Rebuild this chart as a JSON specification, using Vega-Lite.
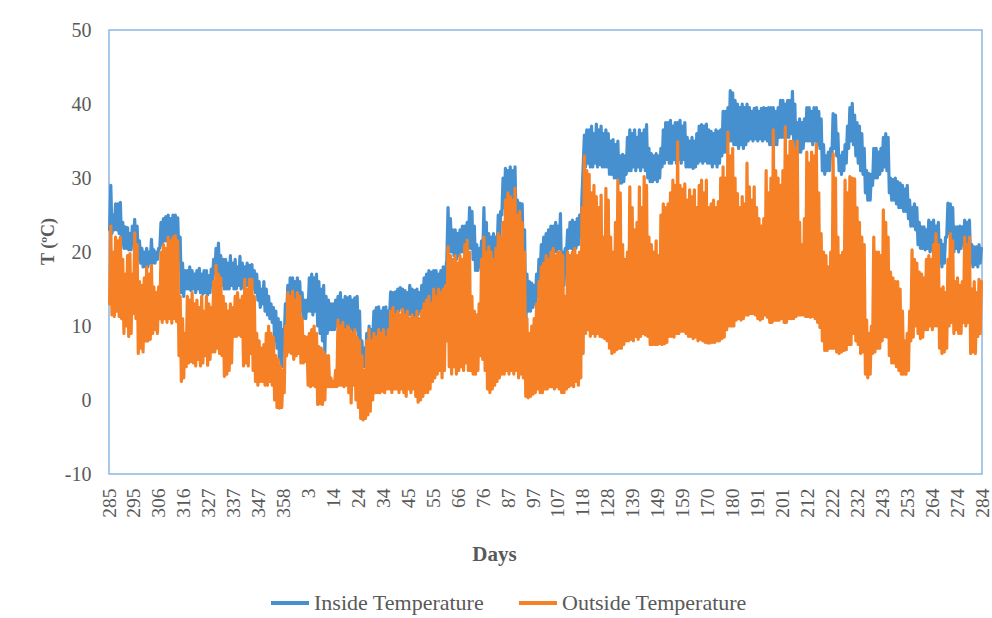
{
"$schema":"https://vega.github.io/schema/vega-lite/v6.json",
"width":873,"height":444,
"autosize":{"type":"none"},
"padding":{"left":109,"top":30,"right":10,"bottom":144},
"background":"white",
"config":{"font":"Liberation Serif","view":{"stroke":"#8DB6E2","strokeWidth":1.5}},
"data":{"values":[
{"t":0.25,"i":23,"o":13},{"t":0.75,"i":29,"o":23.5},
{"t":1.25,"i":22.5,"o":11.5},{"t":1.75,"i":25,"o":20},
{"t":2.25,"i":23,"o":11.3},{"t":2.75,"i":26.5,"o":22},
{"t":3.25,"i":23,"o":12},{"t":3.75,"i":26.5,"o":21.5},
{"t":4.25,"i":22.5,"o":11.3},{"t":4.75,"i":26.7,"o":22},
{"t":5.25,"i":21,"o":11},{"t":5.75,"i":24,"o":19},
{"t":6.25,"i":20.5,"o":9},{"t":6.75,"i":23.4,"o":17},
{"t":7.25,"i":20.5,"o":10},{"t":7.75,"i":23.3,"o":19.5},
{"t":8.25,"i":20.3,"o":8.6},{"t":8.75,"i":22.5,"o":19.8},
{"t":9.25,"i":20.3,"o":9},{"t":9.75,"i":23.5,"o":17},
{"t":10.25,"i":21,"o":11.7},{"t":10.75,"i":24.4,"o":22.6},
{"t":11.25,"i":20,"o":11},{"t":11.75,"i":23.5,"o":21},
{"t":12.25,"i":19,"o":6.3},{"t":12.75,"i":21.5,"o":16},
{"t":13.25,"i":18.5,"o":7},{"t":13.75,"i":20.5,"o":15.5},
{"t":14.25,"i":18,"o":6.5},{"t":14.75,"i":20,"o":16.5},
{"t":15.25,"i":18,"o":8},{"t":15.75,"i":20.5,"o":18},
{"t":16.25,"i":18,"o":8},{"t":16.75,"i":20,"o":17},
{"t":17.25,"i":18.5,"o":8.2},{"t":17.75,"i":21.7,"o":18.2},
{"t":18.25,"i":18.5,"o":9},{"t":18.75,"i":20.3,"o":15.3},
{"t":19.25,"i":18.5,"o":9.5},{"t":19.75,"i":20,"o":14.5},
{"t":20.25,"i":19,"o":9},{"t":20.75,"i":20.5,"o":15.3},
{"t":21.25,"i":20.5,"o":11},{"t":21.75,"i":24,"o":20},
{"t":22.25,"i":21,"o":10.5},{"t":22.75,"i":24.5,"o":21},
{"t":23.25,"i":21.5,"o":11},{"t":23.75,"i":24.8,"o":20.5},
{"t":24.25,"i":21.5,"o":10.5},{"t":24.75,"i":25,"o":22},
{"t":25.25,"i":21,"o":11},{"t":25.75,"i":24.5,"o":21.5},
{"t":26.25,"i":21.5,"o":10.4},{"t":26.75,"i":25,"o":22},
{"t":27.25,"i":22,"o":11},{"t":27.75,"i":25,"o":22.2},
{"t":28.25,"i":21.5,"o":10.6},{"t":28.75,"i":24.6,"o":21.5},
{"t":29.25,"i":19,"o":6},{"t":29.75,"i":22,"o":14},
{"t":30.25,"i":14.5,"o":2.5},{"t":30.75,"i":18.5,"o":11},
{"t":31.25,"i":14,"o":3},{"t":31.75,"i":17.5,"o":9},
{"t":32.25,"i":15,"o":4.5},{"t":32.75,"i":17.5,"o":14},
{"t":33.25,"i":15,"o":5},{"t":33.75,"i":18,"o":13.5},
{"t":34.25,"i":14.8,"o":5.2},{"t":34.75,"i":17.5,"o":14.5},
{"t":35.25,"i":15,"o":5},{"t":35.75,"i":17,"o":13},
{"t":36.25,"i":14.5,"o":4.6},{"t":36.75,"i":17.5,"o":13.5},
{"t":37.25,"i":15,"o":5.5},{"t":37.75,"i":17.8,"o":12.5},
{"t":38.25,"i":14.5,"o":4.6},{"t":38.75,"i":17,"o":14},
{"t":39.25,"i":14.3,"o":5},{"t":39.75,"i":17.5,"o":12},
{"t":40.25,"i":14.5,"o":6},{"t":40.75,"i":17.5,"o":14},
{"t":41.25,"i":14.2,"o":4.7},{"t":41.75,"i":16.8,"o":13},
{"t":42.25,"i":14.5,"o":5.5},{"t":42.75,"i":17.7,"o":12.5},
{"t":43.25,"i":16,"o":6.5},{"t":43.75,"i":19,"o":16},
{"t":44.25,"i":17,"o":6.5},{"t":44.75,"i":20.5,"o":18.2},
{"t":45.25,"i":17,"o":7},{"t":45.75,"i":21.2,"o":17},
{"t":46.25,"i":16.5,"o":6.3},{"t":46.75,"i":19.5,"o":16.5},
{"t":47.25,"i":15.5,"o":6},{"t":47.75,"i":19,"o":14},
{"t":48.25,"i":15,"o":3.2},{"t":48.75,"i":19,"o":13},
{"t":49.25,"i":15,"o":3.5},{"t":49.75,"i":18.5,"o":12},
{"t":50.25,"i":15,"o":4},{"t":50.75,"i":19.5,"o":13},
{"t":51.25,"i":15.5,"o":5},{"t":51.75,"i":18.5,"o":12.5},
{"t":52.25,"i":15,"o":8.6},{"t":52.75,"i":19,"o":14},
{"t":53.25,"i":15,"o":8.6},{"t":53.75,"i":18,"o":14.5},
{"t":54.25,"i":15.5,"o":8.8},{"t":54.75,"i":19.4,"o":13.5},
{"t":55.25,"i":15,"o":8.6},{"t":55.75,"i":18.5,"o":14},
{"t":56.25,"i":15.3,"o":4.6},{"t":56.75,"i":18,"o":16.3},
{"t":57.25,"i":15.5,"o":5},{"t":57.75,"i":18.5,"o":15},
{"t":58.25,"i":15.5,"o":4.6},{"t":58.75,"i":18.2,"o":16.3},
{"t":59.25,"i":16,"o":6.3},{"t":59.75,"i":18.3,"o":16.3},
{"t":60.25,"i":15,"o":4},{"t":60.75,"i":17.5,"o":14},
{"t":61.25,"i":14.5,"o":2.5},{"t":61.75,"i":17,"o":9},
{"t":62.25,"i":13.5,"o":2},{"t":62.75,"i":16,"o":8},
{"t":63.25,"i":12.5,"o":2.5},{"t":63.75,"i":15,"o":7},
{"t":64.25,"i":13,"o":2.5},{"t":64.75,"i":16,"o":7.5},
{"t":65.25,"i":12,"o":2},{"t":65.75,"i":15,"o":9},
{"t":66.25,"i":11.5,"o":2},{"t":66.75,"i":14,"o":10},
{"t":67.25,"i":11,"o":2.5},{"t":67.75,"i":13,"o":9},
{"t":68.25,"i":10.5,"o":2},{"t":68.75,"i":12.5,"o":8.5},
{"t":69.25,"i":8,"o":0},{"t":69.75,"i":12,"o":6},
{"t":70.25,"i":7,"o":-1},{"t":70.75,"i":11,"o":5.5},
{"t":71.25,"i":5.5,"o":-1.1},{"t":71.75,"i":10.5,"o":4.5},
{"t":72.25,"i":4.5,"o":-1},{"t":72.75,"i":9.5,"o":4},
{"t":73.25,"i":8,"o":1},{"t":73.75,"i":13,"o":10},
{"t":74.25,"i":11,"o":6},{"t":74.75,"i":15.5,"o":14.5},
{"t":75.25,"i":12,"o":6.5},{"t":75.75,"i":16.5,"o":14},
{"t":76.25,"i":12.5,"o":6.3},{"t":76.75,"i":16.5,"o":14.7},
{"t":77.25,"i":12,"o":5.5},{"t":77.75,"i":16,"o":13.5},
{"t":78.25,"i":12.5,"o":6},{"t":78.75,"i":16.5,"o":14.5},
{"t":79.25,"i":12,"o":6.3},{"t":79.75,"i":16,"o":14},
{"t":80.25,"i":12,"o":5},{"t":80.75,"i":14.5,"o":11},
{"t":81.25,"i":11,"o":5},{"t":81.75,"i":13.5,"o":8.6},
{"t":82.25,"i":11,"o":5.2},{"t":82.75,"i":13.5,"o":8.5},
{"t":83.25,"i":12,"o":2},{"t":83.75,"i":16.5,"o":9},
{"t":84.25,"i":12,"o":1.8},{"t":84.75,"i":17,"o":9.5},
{"t":85.25,"i":11.5,"o":2},{"t":85.75,"i":16.5,"o":10},
{"t":86.25,"i":12,"o":1.8},{"t":86.75,"i":17,"o":9},
{"t":87.25,"i":10,"o":-0.6},{"t":87.75,"i":16,"o":7.2},
{"t":88.25,"i":9,"o":-0.5},{"t":88.75,"i":15,"o":7},
{"t":89.25,"i":8,"o":-0.6},{"t":89.75,"i":15.5,"o":6.5},
{"t":90.25,"i":6.3,"o":0},{"t":90.75,"i":14,"o":6},
{"t":91.25,"i":9,"o":1.8},{"t":91.75,"i":13.5,"o":6},
{"t":92.25,"i":9.5,"o":1.8},{"t":92.75,"i":13,"o":3},
{"t":93.25,"i":9.5,"o":1.8},{"t":93.75,"i":13,"o":2.5},
{"t":94.25,"i":9.5,"o":1.8},{"t":94.75,"i":13.5,"o":4},
{"t":95.25,"i":10,"o":1.8},{"t":95.75,"i":14,"o":10.8},
{"t":96.25,"i":10,"o":2},{"t":96.75,"i":14.5,"o":10},
{"t":97.25,"i":9.5,"o":2},{"t":97.75,"i":13.5,"o":10.5},
{"t":98.25,"i":9,"o":1.8},{"t":98.75,"i":14,"o":9.5},
{"t":99.25,"i":9.5,"o":2},{"t":99.75,"i":13.8,"o":10},
{"t":100.25,"i":10,"o":1},{"t":100.75,"i":14,"o":9.5},
{"t":101.25,"i":9.5,"o":-0.4},{"t":101.75,"i":13.5,"o":9},
{"t":102.25,"i":9,"o":2},{"t":102.75,"i":13.8,"o":9.5},
{"t":103.25,"i":9.5,"o":0},{"t":103.75,"i":14,"o":8.5},
{"t":104.25,"i":8,"o":-1},{"t":104.75,"i":12,"o":8},
{"t":105.25,"i":5,"o":-2.5},{"t":105.75,"i":8,"o":6},
{"t":106.25,"i":4.5,"o":-2.7},{"t":106.75,"i":7,"o":4},
{"t":107.25,"i":4.5,"o":-2.5},{"t":107.75,"i":9,"o":8},
{"t":108.25,"i":5,"o":-2},{"t":108.75,"i":10,"o":9.5},
{"t":109.25,"i":5.5,"o":-1.5},{"t":109.75,"i":9.5,"o":8},
{"t":110.25,"i":8,"o":0},{"t":110.75,"i":12,"o":9},
{"t":111.25,"i":8.5,"o":1},{"t":111.75,"i":12.5,"o":8.5},
{"t":112.25,"i":8,"o":1},{"t":112.75,"i":12.6,"o":9.5},
{"t":113.25,"i":8,"o":1},{"t":113.75,"i":12,"o":9},
{"t":114.25,"i":8.5,"o":1.2},{"t":114.75,"i":12.5,"o":9.5},
{"t":115.25,"i":8.5,"o":1},{"t":115.75,"i":12.6,"o":8.5},
{"t":116.25,"i":8,"o":1.5},{"t":116.75,"i":12,"o":9.5},
{"t":117.25,"i":11,"o":1.5},{"t":117.75,"i":14.6,"o":12},
{"t":118.25,"i":11,"o":1},{"t":118.75,"i":14.5,"o":12.5},
{"t":119.25,"i":11.5,"o":1.5},{"t":119.75,"i":14.6,"o":11.5},
{"t":120.25,"i":12,"o":1.5},{"t":120.75,"i":15,"o":12},
{"t":121.25,"i":12,"o":1},{"t":121.75,"i":15.2,"o":11.5},
{"t":122.25,"i":12.5,"o":1.5},{"t":122.75,"i":15,"o":12.3},
{"t":123.25,"i":11.5,"o":1},{"t":123.75,"i":14.8,"o":11.5},
{"t":124.25,"i":11.5,"o":0.5},{"t":124.75,"i":14.5,"o":12},
{"t":125.25,"i":11.5,"o":1.5},{"t":125.75,"i":15.5,"o":11},
{"t":126.25,"i":11.5,"o":1},{"t":126.75,"i":15,"o":11.5},
{"t":127.25,"i":11,"o":1.5},{"t":127.75,"i":14.8,"o":11},
{"t":128.25,"i":11.5,"o":0.5},{"t":128.75,"i":15,"o":12},
{"t":129.25,"i":11.5,"o":-0.3},{"t":129.75,"i":14.5,"o":11},
{"t":130.25,"i":12,"o":0},{"t":130.75,"i":15.5,"o":12},
{"t":131.25,"i":12.5,"o":0.5},{"t":131.75,"i":16.5,"o":13},
{"t":132.25,"i":13,"o":1},{"t":132.75,"i":17,"o":13.5},
{"t":133.25,"i":13.5,"o":1},{"t":133.75,"i":17.5,"o":14},
{"t":134.25,"i":13,"o":1.5},{"t":134.75,"i":17.3,"o":13},
{"t":135.25,"i":13.5,"o":2.5},{"t":135.75,"i":17.5,"o":15},
{"t":136.25,"i":14,"o":3},{"t":136.75,"i":17.5,"o":14},
{"t":137.25,"i":13.5,"o":3.5},{"t":137.75,"i":17,"o":15},
{"t":138.25,"i":14,"o":4},{"t":138.75,"i":17.5,"o":14.5},
{"t":139.25,"i":14.5,"o":3},{"t":139.75,"i":18,"o":15},
{"t":140.25,"i":14.5,"o":4},{"t":140.75,"i":17.5,"o":15.5},
{"t":141.25,"i":19,"o":8},{"t":141.75,"i":26,"o":20.7},
{"t":142.25,"i":20,"o":4.5},{"t":142.75,"i":24.5,"o":19.5},
{"t":143.25,"i":20,"o":3.5},{"t":143.75,"i":23,"o":19},
{"t":144.25,"i":19.5,"o":4.5},{"t":144.75,"i":23,"o":19.5},
{"t":145.25,"i":19,"o":3.5},{"t":145.75,"i":22.5,"o":18.5},
{"t":146.25,"i":19.5,"o":4},{"t":146.75,"i":23,"o":19.5},
{"t":147.25,"i":20,"o":4.5},{"t":147.75,"i":23.5,"o":19},
{"t":148.25,"i":20,"o":4},{"t":148.75,"i":23.5,"o":21},
{"t":149.25,"i":20.5,"o":5},{"t":149.75,"i":24,"o":21.6},
{"t":150.25,"i":20.5,"o":4},{"t":150.75,"i":26,"o":20},
{"t":151.25,"i":20.5,"o":4},{"t":151.75,"i":25.5,"o":14},
{"t":152.25,"i":19,"o":3.5},{"t":152.75,"i":23.5,"o":12},
{"t":153.25,"i":17.5,"o":3.5},{"t":153.75,"i":21,"o":11.5},
{"t":154.25,"i":17.5,"o":4},{"t":154.75,"i":20.5,"o":13},
{"t":155.25,"i":18,"o":6},{"t":155.75,"i":21.5,"o":19},
{"t":156.25,"i":19,"o":5.5},{"t":156.75,"i":26,"o":22},
{"t":157.25,"i":18.5,"o":4},{"t":157.75,"i":24,"o":20},
{"t":158.25,"i":18,"o":1.5},{"t":158.75,"i":22.5,"o":20.7},
{"t":159.25,"i":17.5,"o":1},{"t":159.75,"i":22,"o":20},
{"t":160.25,"i":18,"o":1.5},{"t":160.75,"i":22.5,"o":19},
{"t":161.25,"i":18.5,"o":2},{"t":161.75,"i":22,"o":20.5},
{"t":162.25,"i":20,"o":2.5},{"t":162.75,"i":25,"o":22.5},
{"t":163.25,"i":21,"o":3},{"t":163.75,"i":25.5,"o":22},
{"t":164.25,"i":25,"o":3.5},{"t":164.75,"i":30,"o":24},
{"t":165.25,"i":26,"o":3.5},{"t":165.75,"i":31.3,"o":27},
{"t":166.25,"i":26.5,"o":4},{"t":166.75,"i":31,"o":28},
{"t":167.25,"i":26,"o":3.5},{"t":167.75,"i":31.5,"o":27.5},
{"t":168.25,"i":26,"o":4},{"t":168.75,"i":31,"o":27},
{"t":169.25,"i":26,"o":3.5},{"t":169.75,"i":31.5,"o":28.6},
{"t":170.25,"i":23,"o":4},{"t":170.75,"i":27,"o":25},
{"t":171.25,"i":22,"o":3},{"t":171.75,"i":26.6,"o":25.5},
{"t":172.25,"i":22,"o":3.5},{"t":172.75,"i":26.5,"o":24},
{"t":173.25,"i":18,"o":3},{"t":173.75,"i":23,"o":20},
{"t":174.25,"i":9.5,"o":0.5},{"t":174.75,"i":17,"o":11},
{"t":175.25,"i":12,"o":0.3},{"t":175.75,"i":16,"o":9},
{"t":176.25,"i":12,"o":0.5},{"t":176.75,"i":15.8,"o":10},
{"t":177.25,"i":12.5,"o":0.8},{"t":177.75,"i":15.5,"o":11},
{"t":178.25,"i":13,"o":1},{"t":178.75,"i":17,"o":13},
{"t":179.25,"i":14,"o":1.5},{"t":179.75,"i":19,"o":16},
{"t":180.25,"i":17,"o":1},{"t":180.75,"i":21,"o":18},
{"t":181.25,"i":17.5,"o":1},{"t":181.75,"i":22,"o":18.5},
{"t":182.25,"i":18,"o":1.5},{"t":182.75,"i":22.5,"o":19.5},
{"t":183.25,"i":18.5,"o":1.5},{"t":183.75,"i":23,"o":19},
{"t":184.25,"i":18.5,"o":1.8},{"t":184.75,"i":23.5,"o":20},
{"t":185.25,"i":19.5,"o":1.8},{"t":185.75,"i":23.5,"o":20.5},
{"t":186.25,"i":20,"o":1.5},{"t":186.75,"i":24,"o":19.5},
{"t":187.25,"i":20,"o":1.8},{"t":187.75,"i":23.5,"o":20},
{"t":188.25,"i":20.5,"o":1.5},{"t":188.75,"i":25.2,"o":20},
{"t":189.25,"i":15,"o":1},{"t":189.75,"i":20,"o":19.5},
{"t":190.25,"i":15.5,"o":1},{"t":190.75,"i":20.5,"o":14},
{"t":191.25,"i":19.5,"o":1.5},{"t":191.75,"i":23,"o":20},
{"t":192.25,"i":20.5,"o":1.8},{"t":192.75,"i":24,"o":19.5},
{"t":193.25,"i":20.5,"o":2},{"t":193.75,"i":24.3,"o":20},
{"t":194.25,"i":20,"o":1.8},{"t":194.75,"i":24,"o":20.5},
{"t":195.25,"i":20.5,"o":2.5},{"t":195.75,"i":24.5,"o":19.5},
{"t":196.25,"i":21,"o":2},{"t":196.75,"i":25,"o":20},
{"t":197.25,"i":22,"o":3},{"t":197.75,"i":27.5,"o":26},
{"t":198.25,"i":31.5,"o":6.3},{"t":198.75,"i":35.8,"o":33},
{"t":199.25,"i":31.5,"o":9},{"t":199.75,"i":36.5,"o":31},
{"t":200.25,"i":32,"o":9.5},{"t":200.75,"i":36.5,"o":30.5},
{"t":201.25,"i":31.5,"o":8.6},{"t":201.75,"i":37,"o":28},
{"t":202.25,"i":31.5,"o":9},{"t":202.75,"i":36,"o":29},
{"t":203.25,"i":32,"o":8.6},{"t":203.75,"i":37.3,"o":27.5},
{"t":204.25,"i":31.5,"o":9},{"t":204.75,"i":36.5,"o":26},
{"t":205.25,"i":31.8,"o":8.6},{"t":205.75,"i":37,"o":27.7},
{"t":206.25,"i":31.5,"o":8.5},{"t":206.75,"i":36,"o":22},
{"t":207.25,"i":31.5,"o":8.3},{"t":207.75,"i":36.5,"o":28.6},
{"t":208.25,"i":31.5,"o":8},{"t":208.75,"i":36,"o":27},
{"t":209.25,"i":30.5,"o":7},{"t":209.75,"i":35,"o":22},
{"t":210.25,"i":30.5,"o":6.3},{"t":210.75,"i":35.2,"o":20},
{"t":211.25,"i":30,"o":6.5},{"t":211.75,"i":34.5,"o":24},
{"t":212.25,"i":30,"o":6.8},{"t":212.75,"i":35,"o":29.7},
{"t":213.25,"i":29.3,"o":7},{"t":213.75,"i":33,"o":28},
{"t":214.25,"i":29.3,"o":7},{"t":214.75,"i":33.2,"o":21},
{"t":215.25,"i":29.5,"o":7.5},{"t":215.75,"i":33,"o":19},
{"t":216.25,"i":30.5,"o":8},{"t":216.75,"i":35.5,"o":20},
{"t":217.25,"i":31,"o":8},{"t":217.75,"i":36.5,"o":28.8},
{"t":218.25,"i":31,"o":8.2},{"t":218.75,"i":36,"o":26},
{"t":219.25,"i":31.5,"o":8},{"t":219.75,"i":36.5,"o":23},
{"t":220.25,"i":31,"o":8.6},{"t":220.75,"i":35.5,"o":24},
{"t":221.25,"i":31.5,"o":8.2},{"t":221.75,"i":36.5,"o":28.8},
{"t":222.25,"i":31,"o":8.6},{"t":222.75,"i":36,"o":26},
{"t":223.25,"i":31.5,"o":9},{"t":223.75,"i":36.5,"o":30.2},
{"t":224.25,"i":31,"o":8.8},{"t":224.75,"i":37.2,"o":29},
{"t":225.25,"i":30,"o":8.6},{"t":225.75,"i":34,"o":22},
{"t":226.25,"i":29.5,"o":7.5},{"t":226.75,"i":33.3,"o":21},
{"t":227.25,"i":29.5,"o":7.5},{"t":227.75,"i":33,"o":20},
{"t":228.25,"i":29.8,"o":7.5},{"t":228.75,"i":33.3,"o":21.5},
{"t":229.25,"i":29.5,"o":7.5},{"t":229.75,"i":33,"o":19.5},
{"t":230.25,"i":30,"o":7.6},{"t":230.75,"i":34,"o":25},
{"t":231.25,"i":31.5,"o":7.5},{"t":231.75,"i":36.5,"o":26.5},
{"t":232.25,"i":32,"o":7.6},{"t":232.75,"i":37.5,"o":26},
{"t":233.25,"i":32.5,"o":7.8},{"t":233.75,"i":37.5,"o":26.5},
{"t":234.25,"i":32,"o":8.6},{"t":234.75,"i":37.8,"o":28},
{"t":235.25,"i":32,"o":8.6},{"t":235.75,"i":37,"o":29.7},
{"t":236.25,"i":32.5,"o":8.5},{"t":236.75,"i":37.5,"o":29},
{"t":237.25,"i":32,"o":9},{"t":237.75,"i":37.5,"o":34.9},
{"t":238.25,"i":32.5,"o":9},{"t":238.75,"i":37.8,"o":29},
{"t":239.25,"i":32,"o":9.3},{"t":239.75,"i":37,"o":28.5},
{"t":240.25,"i":32.5,"o":9.3},{"t":240.75,"i":37.5,"o":29.2},
{"t":241.25,"i":31.5,"o":9},{"t":241.75,"i":35.5,"o":27},
{"t":242.25,"i":31.5,"o":8.6},{"t":242.75,"i":35,"o":28.4},
{"t":243.25,"i":31.5,"o":8.6},{"t":243.75,"i":35.5,"o":27.5},
{"t":244.25,"i":31.3,"o":8.3},{"t":244.75,"i":35,"o":28.4},
{"t":245.25,"i":31.5,"o":8.5},{"t":245.75,"i":36,"o":26},
{"t":246.25,"i":32,"o":8},{"t":246.75,"i":37,"o":29},
{"t":247.25,"i":32.3,"o":8.2},{"t":247.75,"i":37.2,"o":29.7},
{"t":248.25,"i":32,"o":8},{"t":248.75,"i":37,"o":28},
{"t":249.25,"i":32.3,"o":7.8},{"t":249.75,"i":37.3,"o":29.7},
{"t":250.25,"i":32,"o":7.7},{"t":250.75,"i":36.5,"o":26},
{"t":251.25,"i":32,"o":7.7},{"t":251.75,"i":36.3,"o":26.5},
{"t":252.25,"i":31.5,"o":7.8},{"t":252.75,"i":36,"o":27},
{"t":253.25,"i":32,"o":7.8},{"t":253.75,"i":36.5,"o":26},
{"t":254.25,"i":31.5,"o":8},{"t":254.75,"i":36.3,"o":26.8},
{"t":255.25,"i":32,"o":8},{"t":255.75,"i":36.5,"o":30},
{"t":256.25,"i":33,"o":8.3},{"t":256.75,"i":39,"o":31.5},
{"t":257.25,"i":33.5,"o":8.5},{"t":257.75,"i":39,"o":30},
{"t":258.25,"i":33.5,"o":9.5},{"t":258.75,"i":39.5,"o":36.2},
{"t":259.25,"i":35,"o":10},{"t":259.75,"i":41.8,"o":33},
{"t":260.25,"i":35,"o":10},{"t":260.75,"i":41.5,"o":34},
{"t":261.25,"i":34.5,"o":10},{"t":261.75,"i":40.5,"o":30},
{"t":262.25,"i":34.5,"o":10.8},{"t":262.75,"i":40,"o":27.9},
{"t":263.25,"i":34,"o":11},{"t":263.75,"i":39.5,"o":26},
{"t":264.25,"i":34.5,"o":10.8},{"t":264.75,"i":40,"o":27.5},
{"t":265.25,"i":34,"o":11},{"t":265.75,"i":39.5,"o":26.5},
{"t":266.25,"i":34.5,"o":11.5},{"t":266.75,"i":40,"o":32},
{"t":267.25,"i":35,"o":11.5},{"t":267.75,"i":39.5,"o":28.8},
{"t":268.25,"i":35.3,"o":11.7},{"t":268.75,"i":39,"o":27},
{"t":269.25,"i":35,"o":11.7},{"t":269.75,"i":39.4,"o":28.8},
{"t":270.25,"i":35.3,"o":11.5},{"t":270.75,"i":39.5,"o":26},
{"t":271.25,"i":35,"o":11},{"t":271.75,"i":39,"o":24.5},
{"t":272.25,"i":35.3,"o":10.8},{"t":272.75,"i":39.4,"o":23.5},
{"t":273.25,"i":35,"o":11},{"t":273.75,"i":39.5,"o":24.5},
{"t":274.25,"i":35.3,"o":11.5},{"t":274.75,"i":39.4,"o":31},
{"t":275.25,"i":35,"o":11.2},{"t":275.75,"i":39.5,"o":28},
{"t":276.25,"i":34.5,"o":10.5},{"t":276.75,"i":39.5,"o":30},
{"t":277.25,"i":34.5,"o":10.5},{"t":277.75,"i":39.5,"o":36.5},
{"t":278.25,"i":34.5,"o":10.8},{"t":278.75,"i":39,"o":31},
{"t":279.25,"i":34.5,"o":10.8},{"t":279.75,"i":39.5,"o":30},
{"t":280.25,"i":35.5,"o":10.8},{"t":280.75,"i":40.5,"o":29},
{"t":281.25,"i":35.5,"o":11},{"t":281.75,"i":40.5,"o":31},
{"t":282.25,"i":35.5,"o":10.5},{"t":282.75,"i":40,"o":36.9},
{"t":283.25,"i":35.5,"o":10.5},{"t":283.75,"i":40.5,"o":33},
{"t":284.25,"i":35.5,"o":11},{"t":284.75,"i":40.5,"o":35},
{"t":285.25,"i":36,"o":11},{"t":285.75,"i":41.7,"o":35},
{"t":286.25,"i":35,"o":11},{"t":286.75,"i":40,"o":34},
{"t":287.25,"i":33,"o":11.3},{"t":287.75,"i":37.5,"o":35},
{"t":288.25,"i":33.5,"o":11.5},{"t":288.75,"i":38,"o":24},
{"t":289.25,"i":33.5,"o":11.5},{"t":289.75,"i":37.5,"o":21},
{"t":290.25,"i":34,"o":11.5},{"t":290.75,"i":38,"o":24.5},
{"t":291.25,"i":35,"o":11.3},{"t":291.75,"i":39.5,"o":33.5},
{"t":292.25,"i":35,"o":11.3},{"t":292.75,"i":39.5,"o":32},
{"t":293.25,"i":35,"o":11.2},{"t":293.75,"i":39,"o":33.5},
{"t":294.25,"i":34.5,"o":11.3},{"t":294.75,"i":39.5,"o":33},
{"t":295.25,"i":35,"o":11},{"t":295.75,"i":39.5,"o":34.6},
{"t":296.25,"i":34.5,"o":10.5},{"t":296.75,"i":39,"o":28},
{"t":297.25,"i":34,"o":9.8},{"t":297.75,"i":38,"o":22.5},
{"t":298.25,"i":31,"o":8},{"t":298.75,"i":34.5,"o":20},
{"t":299.25,"i":30.5,"o":6.7},{"t":299.75,"i":33,"o":19.5},
{"t":300.25,"i":31,"o":6.7},{"t":300.75,"i":33.5,"o":18},
{"t":301.25,"i":31,"o":7},{"t":301.75,"i":34,"o":20},
{"t":302.25,"i":33,"o":7},{"t":302.75,"i":38.7,"o":33.3},
{"t":303.25,"i":34,"o":7},{"t":303.75,"i":38.5,"o":30},
{"t":304.25,"i":33,"o":6.5},{"t":304.75,"i":36,"o":22},
{"t":305.25,"i":31,"o":6.3},{"t":305.75,"i":33,"o":19.5},
{"t":306.25,"i":30.5,"o":6.5},{"t":306.75,"i":33.5,"o":20},
{"t":307.25,"i":31,"o":6.7},{"t":307.75,"i":34.5,"o":29.7},
{"t":308.25,"i":32,"o":6.8},{"t":308.75,"i":37,"o":28},
{"t":309.25,"i":34,"o":7.5},{"t":309.75,"i":39.5,"o":30.2},
{"t":310.25,"i":35,"o":7.5},{"t":310.75,"i":40.1,"o":30},
{"t":311.25,"i":34.5,"o":9},{"t":311.75,"i":38.5,"o":29.9},
{"t":312.25,"i":33,"o":8},{"t":312.75,"i":37.5,"o":26},
{"t":313.25,"i":32,"o":7.5},{"t":313.75,"i":37,"o":24},
{"t":314.25,"i":31,"o":6.3},{"t":314.75,"i":36,"o":22},
{"t":315.25,"i":30.5,"o":6.5},{"t":315.75,"i":34,"o":21},
{"t":316.25,"i":28,"o":3.5},{"t":316.75,"i":31,"o":10.8},
{"t":317.25,"i":27,"o":3},{"t":317.75,"i":30.6,"o":9},
{"t":318.25,"i":27,"o":3.5},{"t":318.75,"i":30.5,"o":10},
{"t":319.25,"i":29,"o":6.3},{"t":319.75,"i":34,"o":22},
{"t":320.25,"i":30,"o":6.5},{"t":320.75,"i":34,"o":20},
{"t":321.25,"i":30,"o":7},{"t":321.75,"i":33.5,"o":20},
{"t":322.25,"i":30.5,"o":7},{"t":322.75,"i":34,"o":19.5},
{"t":323.25,"i":31,"o":8},{"t":323.75,"i":35.5,"o":25.7},
{"t":324.25,"i":31.5,"o":8.6},{"t":324.75,"i":36,"o":24},
{"t":325.25,"i":31,"o":8.5},{"t":325.75,"i":35.5,"o":22},
{"t":326.25,"i":28,"o":6},{"t":326.75,"i":30,"o":17.3},
{"t":327.25,"i":27,"o":5},{"t":327.75,"i":29.8,"o":16.5},
{"t":328.25,"i":27,"o":5},{"t":328.75,"i":30,"o":16},
{"t":329.25,"i":26.5,"o":4.5},{"t":329.75,"i":29.5,"o":16},
{"t":330.25,"i":26,"o":4},{"t":330.75,"i":29.3,"o":15},
{"t":331.25,"i":26,"o":3.5},{"t":331.75,"i":29,"o":12},
{"t":332.25,"i":25.5,"o":3.5},{"t":332.75,"i":28.5,"o":8},
{"t":333.25,"i":25.5,"o":3.5},{"t":333.75,"i":29,"o":9},
{"t":334.25,"i":24.5,"o":4},{"t":334.75,"i":27,"o":12},
{"t":335.25,"i":23.5,"o":8},{"t":335.75,"i":26,"o":20.3},
{"t":336.25,"i":23.5,"o":8.5},{"t":336.75,"i":26.5,"o":19},
{"t":337.25,"i":23,"o":10},{"t":337.75,"i":26,"o":18.5},
{"t":338.25,"i":21,"o":9},{"t":338.75,"i":24,"o":17.3},
{"t":339.25,"i":20.5,"o":8.3},{"t":339.75,"i":23.4,"o":17},
{"t":340.25,"i":20.5,"o":8.5},{"t":340.75,"i":23.4,"o":16.5},
{"t":341.25,"i":20.3,"o":9.5},{"t":341.75,"i":23,"o":19},
{"t":342.25,"i":20.5,"o":9.5},{"t":342.75,"i":24.3,"o":19.5},
{"t":343.25,"i":20,"o":10},{"t":343.75,"i":24,"o":19},
{"t":344.25,"i":20.3,"o":9.5},{"t":344.75,"i":24.3,"o":21},
{"t":345.25,"i":20,"o":10},{"t":345.75,"i":23.5,"o":22.5},
{"t":346.25,"i":19.8,"o":10},{"t":346.75,"i":24,"o":21},
{"t":347.25,"i":18.5,"o":7},{"t":347.75,"i":21.6,"o":15},
{"t":348.25,"i":18,"o":6.3},{"t":348.75,"i":21,"o":15.3},
{"t":349.25,"i":18.5,"o":6.5},{"t":349.75,"i":22,"o":14.5},
{"t":350.25,"i":22,"o":7},{"t":350.75,"i":26.6,"o":19},
{"t":351.25,"i":22.5,"o":10},{"t":351.75,"i":26.5,"o":22.5},
{"t":352.25,"i":22,"o":10.5},{"t":352.75,"i":26,"o":21.5},
{"t":353.25,"i":20,"o":9},{"t":353.75,"i":23.4,"o":16},
{"t":354.25,"i":20.5,"o":9.5},{"t":354.75,"i":23.4,"o":16.5},
{"t":355.25,"i":20,"o":9},{"t":355.75,"i":23.5,"o":15.5},
{"t":356.25,"i":20.5,"o":9},{"t":356.75,"i":23.4,"o":16},
{"t":357.25,"i":21,"o":10.5},{"t":357.75,"i":24.3,"o":22},
{"t":358.25,"i":21,"o":10},{"t":358.75,"i":24,"o":21},
{"t":359.25,"i":21,"o":10.5},{"t":359.75,"i":24.3,"o":22},
{"t":360.25,"i":18.5,"o":6.3},{"t":360.75,"i":21,"o":15},
{"t":361.25,"i":18,"o":6.5},{"t":361.75,"i":20.7,"o":16},
{"t":362.25,"i":18.3,"o":6.3},{"t":362.75,"i":20.7,"o":14.5},
{"t":363.25,"i":18,"o":8.6},{"t":363.75,"i":21,"o":16.3},
{"t":364.25,"i":18.5,"o":9},{"t":364.75,"i":20.5,"o":16}
]},
"encoding":{
"x":{"field":"t","type":"quantitative",
"scale":{"domain":[0,365],"nice":false,"zero":false},
"axis":{"values":[0,10.43,20.86,31.29,41.71,52.14,62.57,73,83.43,93.86,104.29,114.71,125.14,135.57,146,156.43,166.86,177.29,187.71,198.14,208.57,219,229.43,239.86,250.29,260.71,271.14,281.57,292,302.43,312.86,323.29,333.71,344.14,354.57,365],
"labelExpr":"['285','295','306','316','327','337','347','358','3','14','24','34','45','55','66','76','87','97','107','118','128','139','149','159','170','180','191','201','212','222','232','243','253','264','274','284'][round(datum.value/10.42857)]",
"labelAngle":-90,"labelFontSize":19.5,"labelColor":"#595959","labelPadding":14,"labelOverlap":false,"labelFlush":false,"labelBound":false,
"ticks":false,"domain":false,"grid":false,
"title":"Days","titleFontSize":21,"titleFontWeight":"bold","titleColor":"#595959","titleX":385,"titleY":86,"titleAlign":"center","titleBaseline":"alphabetic"}}
},
"layer":[
{"mark":{"type":"line","strokeWidth":3.2,"strokeJoin":"round","strokeCap":"round"},
"encoding":{
"y":{"field":"i","type":"quantitative","scale":{"domain":[-10,50],"nice":false,"zero":false},
"axis":{"values":[-10,0,10,20,30,40,50],"labelExpr":"'' + datum.value","title":"T (ºC)","titleFontSize":18,"titleFontWeight":"bold","titleColor":"#595959","titleAngle":-90,"titleX":-56,"titleY":211,"titleAlign":"center","titleBaseline":"alphabetic",
"labelFontSize":20,"labelColor":"#595959","labelPadding":18,"ticks":false,"domain":false,"grid":false}},
"color":{"datum":"Inside Temperature","type":"nominal",
"scale":{"domain":["Inside Temperature","Outside Temperature"],"range":["#4690D0","#F58026"]},
"legend":{"orient":"none","legendX":160,"legendY":552,"direction":"horizontal","title":null,"symbolType":"stroke","symbolStrokeWidth":4,"symbolSize":1444,"labelFontSize":22,"labelColor":"#595959","labelFont":"Liberation Serif","labelLimit":0,"labelOffset":3,"columnPadding":26,"padding":0}}
}},
{"mark":{"type":"line","strokeWidth":3.2,"strokeJoin":"round","strokeCap":"round"},
"encoding":{
"y":{"field":"o","type":"quantitative","axis":{"title":"T (ºC)"}},
"color":{"datum":"Outside Temperature","type":"nominal"}
}}
]
}
